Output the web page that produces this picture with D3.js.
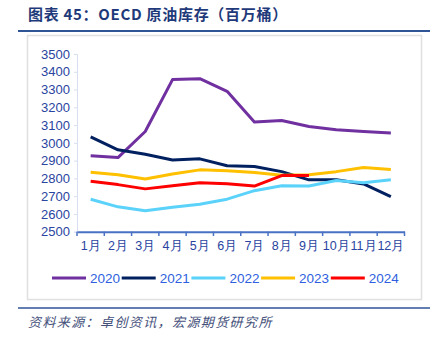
<!DOCTYPE html>
<html><head><meta charset="utf-8">
<script src="https://cdn.jsdelivr.net/npm/d3@7"></script>
<style>body{margin:0;background:#fff}svg{display:block}</style>
</head><body><svg id="c" width="435" height="338"></svg>
<script>
const months = ["1月","2月","3月","4月","5月","6月","7月","8月","9月","10月","11月","12月"];
const yTicks = [2500,2600,2700,2800,2900,3000,3100,3200,3300,3400,3500];
const s2020 = [2928,2917,3064,3356,3361,3290,3118,3126,3092,3074,3064,3055];
const s2021 = [3034,2961,2936,2904,2910,2871,2867,2838,2792,2792,2769,2697];
const s2022 = [2683,2640,2618,2637,2654,2683,2731,2759,2757,2788,2776,2792];
const s2023 = [2835,2820,2797,2825,2848,2843,2833,2818,2820,2838,2861,2850];
const s2024 = [2784,2765,2741,2758,2776,2770,2757,2816,2816];
const seriesNames = ["2020","2021","2022","2023","2024"];
const colors = ["#7030a0","#002060","#5bd2fa","#ffc000","#ff0000"];
const series = [s2020,s2021,s2022,s2023,s2024];

const svg = d3.select("#c");
// title
svg.append("text").attr("x",28).attr("y",20).attr("fill","#1f3a7a")
  .attr("font-family","'Noto Sans CJK SC',sans-serif").attr("font-weight","bold").attr("font-size",15)
  .attr("letter-spacing",0.7)
  .text("图表 45：OECD 原油库存（百万桶）");
svg.append("line").attr("x1",18).attr("x2",430).attr("y1",31).attr("y2",31).attr("stroke","#2f5597").attr("stroke-width",2);
// chart box
svg.append("rect").attr("x",27.5).attr("y",35.5).attr("width",394).attr("height",264).attr("fill","#fff").attr("stroke","#e0e0e0").attr("stroke-width",1.5);
svg.append("line").attr("x1",18).attr("x2",430).attr("y1",308).attr("y2",308).attr("stroke","#2f5597").attr("stroke-width",1.5);
svg.append("text").attr("x",28).attr("y",327).attr("fill","#44507a")
  .attr("font-family","'Noto Sans CJK SC',sans-serif").attr("font-style","italic").attr("font-size",13)
  .attr("letter-spacing",1.4)
  .text("资料来源：卓创资讯，宏源期货研究所");

const x = d3.scaleBand().domain(months).range([77,404.5]);
const y = d3.scaleLinear().domain([2500,3500]).range([231.7,54]);

// y axis
const gy = svg.append("g").attr("transform","translate(77,0)")
  .call(d3.axisLeft(y).tickValues(yTicks).tickFormat(d3.format("d")).tickSize(3).tickPadding(4));
gy.select(".domain").attr("stroke","#d6def0");
gy.selectAll(".tick line").attr("stroke","#d6def0");
gy.selectAll("text").attr("fill","#2a44a0").attr("font-family","'Liberation Sans',Arial,sans-serif").attr("font-size",13);

// x axis
const gx = svg.append("g").attr("transform","translate(0,231.7)")
  .call(d3.axisBottom(x).tickSize(0).tickPadding(9));
gx.select(".domain").attr("stroke","#4a72c4").attr("stroke-width",2);
gx.selectAll("text").attr("fill","#2a44a0").attr("font-family","'Liberation Sans',Arial,sans-serif").attr("font-size",12.5);
const bounds = months.map(m=>x(m)).concat([x.range()[1]]);
svg.append("g").selectAll("line").data(bounds).join("line")
  .attr("x1",d=>d).attr("x2",d=>d).attr("y1",231.7).attr("y2",236).attr("stroke","#4a72c4").attr("stroke-width",1.5);

const line = d3.line().x((d,i)=>x(months[i])+x.bandwidth()/2).y(d=>y(d));
series.forEach((s,k)=>{
  svg.append("path").datum(s).attr("d",line).attr("fill","none")
    .attr("stroke",colors[k]).attr("stroke-width",3).attr("stroke-linejoin","round");
});

// legend
const lg = svg.append("g");
seriesNames.forEach((n,k)=>{
  const x0 = 52 + k*69.7;
  lg.append("line").attr("x1",x0).attr("x2",x0+34).attr("y1",278).attr("y2",278).attr("stroke",colors[k]).attr("stroke-width",3);
  lg.append("text").attr("x",x0+38).attr("y",283).attr("fill","#2f5fe0")
    .attr("font-family","'Liberation Sans',Arial,sans-serif").attr("font-size",13.5).text(n);
});
</script></body></html>
